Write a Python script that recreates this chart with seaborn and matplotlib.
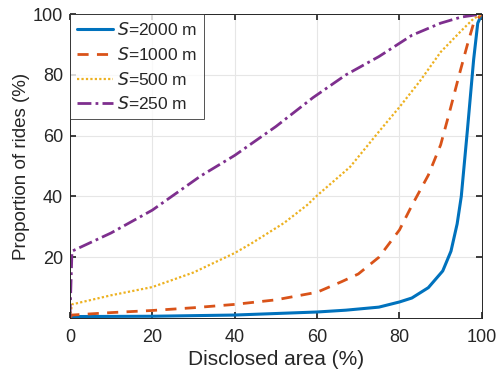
import matplotlib
matplotlib.use("Agg")
import matplotlib.pyplot as plt
import seaborn as sns
import pandas as pd

sns.set_theme(style="ticks")
plt.rcParams['font.family'] = ['Liberation Sans', 'DejaVu Sans']

# Data
x_2000 = [0, 0.5, 20, 40, 60, 67, 75, 80, 83, 87, 90.5, 92.5, 94, 95, 96.5, 98, 99, 100]
y_2000 = [0, 0.5, 0.6, 1.0, 2.0, 2.6, 3.6, 5.3, 6.6, 10, 15.5, 22, 31, 40, 62, 85, 97, 100]

x_1000 = [0, 0.5, 10, 20, 30, 40, 50, 60, 66, 70, 75, 80, 83, 87, 90, 92, 94.5, 96.5, 98, 100]
y_1000 = [0, 1.0, 1.8, 2.5, 3.4, 4.5, 6, 8.5, 12, 14.5, 20, 29, 37, 47, 57, 67, 80, 90, 97, 100]

x_500 = [0, 0.5, 10, 20, 30, 40, 44, 52, 57.6, 60, 68, 75.3, 80, 85, 90, 95, 98, 100]
y_500 = [0, 4.5, 7.5, 10.2, 15, 21.4, 24.5, 31.3, 37.2, 40.3, 49.7, 61.8, 69.4, 78, 87.5, 94.5, 98.5, 100]

x_250 = [0, 0.5, 10, 20, 31.7, 40, 50, 59, 67, 75, 83, 90, 95, 100]
y_250 = [0, 22, 28, 35.5, 46.7, 53.5, 63, 72.5, 80, 86, 93, 97, 99, 100]

x_ticks = [0, 20, 40, 60, 80, 100]
x_ticklabels = ["0", "20", "40", "60", "80", "100"]
y_ticks = [20, 40, 60, 80, 100]

labels = ["$S$=2000 m", "$S$=1000 m", "$S$=500 m", "$S$=250 m"]
colors = ["#0072BD", "#D95319", "#EDB120", "#7E2F8E"]
styles = ["-", (0, (4, 3)), (0, (1, 1)), (0, (5, 1.5, 1, 1.5))]
widths = [2.2, 2.0, 1.6, 2.0]

series = [(x_2000, y_2000), (x_1000, y_1000), (x_500, y_500), (x_250, y_250)]

fig = plt.figure(figsize=(5.03, 3.69), dpi=100)
ax = fig.add_axes([0.139, 0.138, 0.819, 0.824])

for (xs, ys), lab, c, ls, lw in zip(series, labels, colors, styles, widths):
    df = pd.DataFrame({"x": xs, "y": ys})
    sns.lineplot(data=df, x="x", y="y", ax=ax, color=c, linestyle=ls,
                 linewidth=lw, label=lab, sort=False)

ax.set_xlim(0, 100)
ax.set_ylim(0, 100)
ax.set_xticks(x_ticks)
ax.set_xticklabels(x_ticklabels)
ax.set_yticks(y_ticks)
ax.grid(True, color="#e6e6e6", linewidth=0.8)
ax.set_axisbelow(True)
for s in ax.spines.values():
    s.set_visible(True)
    s.set_color("#262626")
    s.set_linewidth(0.7)
ax.tick_params(direction="in", labelsize=13, colors="#262626", length=4,
               top=True, right=True)
ax.tick_params(axis="x", pad=8)
ax.tick_params(axis="y", pad=5)

ax.set_xlabel("Disclosed area (%)", fontsize=15, color="#262626", labelpad=3)
ax.set_ylabel("Proportion of rides (%)", fontsize=13.5, color="#262626", labelpad=2)

leg = ax.legend(loc="upper left", fontsize=12.5, frameon=True, fancybox=False,
                edgecolor="#262626", handlelength=2.1, handletextpad=0.2,
                borderaxespad=0.0, labelspacing=0.45, borderpad=0.4)
leg.get_frame().set_linewidth(0.7)

fig.savefig("out.png", dpi=100)
